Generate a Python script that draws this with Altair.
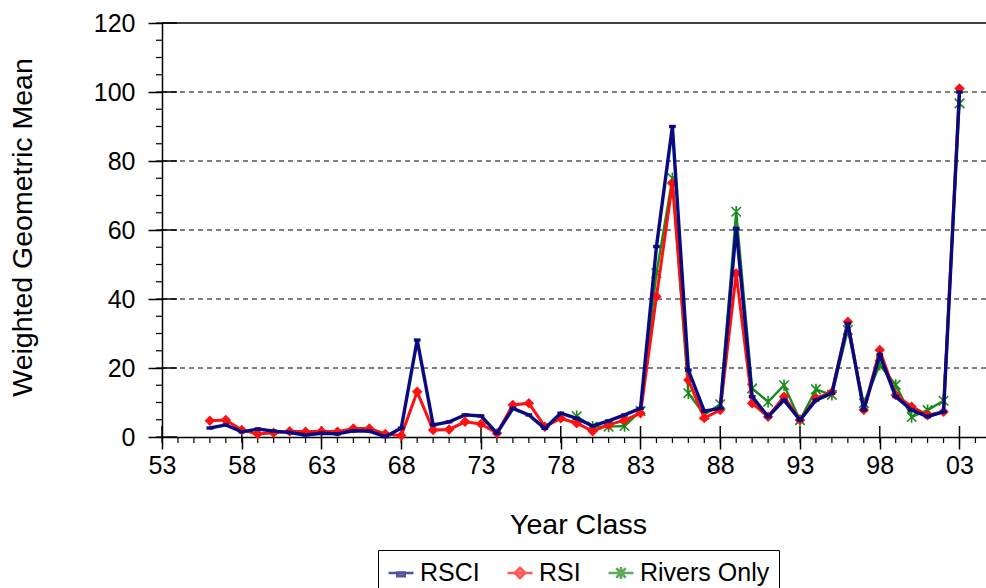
import altair as alt
import pandas as pd

# ---------------- data ----------------
years = list(range(1956, 2004))
rsci = [2.6, 3.5, 1.5, 2.3, 1.7, 1.3, 0.6, 1.1, 0.9, 1.8, 1.7, 0.1, 2.6, 28.1,
        3.5, 4.4, 6.4, 6.1, 1.1, 8.3, 6.4, 2.5, 6.9, 5.4, 3.2, 4.7, 6.4, 8.3,
        55.2, 90.0, 19.4, 7.5, 8.3, 60.5, 11.7, 5.9, 10.7, 4.9, 10.7, 12.7,
        32.9, 7.8, 23.8, 11.7, 7.8, 5.9, 7.3, 100.0]
rsi = [4.7, 4.9, 2.0, 0.9, 1.2, 1.7, 1.5, 1.7, 1.5, 2.5, 2.5, 0.9, 0.4, 13.1,
       2.0, 2.2, 4.4, 3.8, 1.1, 9.3, 9.8, 3.0, 5.4, 4.0, 1.7, 3.5, 4.9, 6.9,
       40.7, 73.5, 16.5, 5.5, 7.8, 47.4, 9.8, 5.9, 11.7, 4.9, 11.2, 13.0,
       33.4, 7.8, 25.2, 12.2, 8.8, 6.3, 7.3, 101.0]
rivers_years = list(range(1979, 2004))
rivers = [6.0, 3.0, 3.0, 3.2, 7.5, 47.5, 75.0, 12.7, 6.5, 9.5, 65.3, 14.1, 10.2,
          15.0, 4.9, 13.8, 12.2, 31.0, 9.8, 20.9, 15.1, 5.8, 7.8, 10.5, 96.7]

series_names = ["RSCI", "RSI", "Rivers Only"]
series_colors = ["#0a0a80", "#ff1010", "#1a8a1a"]

x_ticks = [1953, 1958, 1963, 1968, 1973, 1978, 1983, 1988, 1993, 1998, 2003]
x_tick_labels = ["53", "58", "63", "68", "73", "78", "83", "88", "93", "98", "03"]
x_minor = list(range(1953, 2005))
y_ticks = [0, 20, 40, 60, 80, 100, 120]
y_minor = list(range(0, 121, 5))
grid_values = [20, 40, 60, 80, 100]
top_value = [120]

# ---------------- layout ----------------
W, H = 824, 414
FONT = "Liberation Sans"
FS = 25
TFS = 28.5
LFS = 25
x_max = 1953 + W / 15.95

x_scale = alt.Scale(domain=[1953, x_max], nice=False, zero=False)
y_scale = alt.Scale(domain=[0, 120], nice=False, zero=False)

df_rsci = pd.DataFrame({"year": years, "value": rsci})
df_rsi = pd.DataFrame({"year": years, "value": rsi})
df_riv = pd.DataFrame({"year": rivers_years, "value": rivers})

label_expr = ("[" + ",".join(f"'{l}'" for l in x_tick_labels) + "][indexof(["
              + ",".join(str(v) for v in x_ticks) + "], datum.value)]")

x_axis = alt.Axis(values=x_ticks, labelExpr=label_expr, tickSize=12, tickWidth=1.5,
                  tickColor="black", domainColor="black", domainWidth=1.5,
                  labelFontSize=FS, labelColor="black", labelPadding=4, labelFont=FONT,
                  labelFlush=False, labelOverlap=False, grid=False,
                  title="Year Class", titleFontSize=TFS, titleFont=FONT,
                  titleFontWeight="normal", titleColor="black",
                  titleBaseline="alphabetic", titleY=96, titleX=416)
y_axis = alt.Axis(values=y_ticks, tickSize=14, tickWidth=1.5, tickColor="black",
                  domainColor="black", domainWidth=1.5, labelFontSize=FS,
                  labelColor="black", labelPadding=13, labelFont=FONT, grid=False,
                  title="Weighted Geometric Mean", titleFontSize=TFS, titleFont=FONT,
                  titleFontWeight="normal", titleColor="black",
                  titleBaseline="alphabetic", titleX=-131, titleY=204, titleAngle=270)


def X(field):
    return alt.X(field, scale=x_scale, axis=x_axis)


def Y(field):
    return alt.Y(field, scale=y_scale, axis=y_axis)


# decorations
grid = alt.Chart(pd.DataFrame({"v": grid_values})).mark_rule(
    color="black", strokeWidth=1, strokeDash=[5, 4]).encode(
    y=Y("v:Q"), x=alt.value(0), x2=alt.value(W))
top = alt.Chart(pd.DataFrame({"v": top_value})).mark_rule(
    color="black", strokeWidth=1.5).encode(
    y=Y("v:Q"), x=alt.value(0), x2=alt.value(W))
x_minor_t = alt.Chart(pd.DataFrame({"v": x_minor})).mark_rule(
    color="black", strokeWidth=1.2).encode(
    x=X("v:Q"), y=alt.value(H), y2=alt.value(H + 6))
x_major_in = alt.Chart(pd.DataFrame({"v": x_ticks})).mark_rule(
    color="black", strokeWidth=1.5).encode(
    x=X("v:Q"), y=alt.value(H - 11), y2=alt.value(H))
y_minor_t = alt.Chart(pd.DataFrame({"v": y_minor})).mark_rule(
    color="black", strokeWidth=1.2).encode(
    y=Y("v:Q"), x=alt.value(-6), x2=alt.value(0))
y_major_in = alt.Chart(pd.DataFrame({"v": y_ticks})).mark_rule(
    color="black", strokeWidth=1.5).encode(
    y=Y("v:Q"), x=alt.value(0), x2=alt.value(15))

ASTER = "M-1,-1L1,1M-1,1L1,-1M0,-1.2L0,1.2"
DASH = "M-1,-0.5L1,-0.5L1,0.5L-1,0.5Z"


def series_layers(df, color, width, shape, size, filled, sw):
    line = alt.Chart(df).mark_line(color=color, strokeWidth=width).encode(
        x=X("year:Q"), y=Y("value:Q"))
    pts = alt.Chart(df).mark_point(shape=shape, size=size, filled=filled, color=color,
                                   strokeWidth=sw, opacity=1).encode(
        x=X("year:Q"), y=Y("value:Q"))
    return [line, pts]


riv_l = series_layers(df_riv, series_colors[2], 2.4, ASTER, 90, False, 1.6)
rsi_l = series_layers(df_rsi, series_colors[1], 3, "diamond", 110, True, 1)
rsci_l = series_layers(df_rsci, series_colors[0], 3.4, DASH, 45, True, 1)

# legend
legend_shapes = [
    "M-1,0L1,0M-0.3,-0.05L0.3,-0.05L0.3,0.25L-0.3,0.25Z",
    "M-1,0L1,0M0,-0.42L0.42,0L0,0.42L-0.42,0Z",
    "M-1,0L1,0M-0.38,-0.38L0.38,0.38M-0.38,0.38L0.38,-0.38M0,-0.48L0,0.48",
]
color_scale = alt.Scale(domain=series_names, range=series_colors)
shape_scale = alt.Scale(domain=series_names, range=legend_shapes)
leg = alt.Legend(title=None, orient="none", legendX=216, legendY=527,
                 direction="horizontal", columns=3, labelFontSize=LFS,
                 labelFont=FONT, labelColor="black", symbolSize=625,
                 symbolStrokeWidth=2.5, labelOffset=5, columnPadding=22,
                 padding=9, strokeColor="black", fillColor="white")
legend_df = pd.DataFrame({"series": series_names})
legend_layer = alt.Chart(legend_df).mark_point(filled=True, strokeWidth=2.5).encode(
    fill=alt.Fill("series:N", scale=color_scale, legend=leg),
    stroke=alt.Stroke("series:N", scale=color_scale, legend=leg),
    shape=alt.Shape("series:N", scale=shape_scale, legend=leg),
).transform_filter("false")

chart = alt.layer(
    *riv_l, grid, top, x_minor_t, x_major_in, y_minor_t, y_major_in,
    *rsi_l, *rsci_l, legend_layer
).properties(
    width=W, height=H,
    autosize=alt.AutoSizeParams(type="none"),
    padding={"left": 162, "top": 23, "right": 0, "bottom": 151},
    background="white",
).configure_view(stroke=None)

chart.save("out.html", embed_options={"renderer": "svg", "actions": False})
